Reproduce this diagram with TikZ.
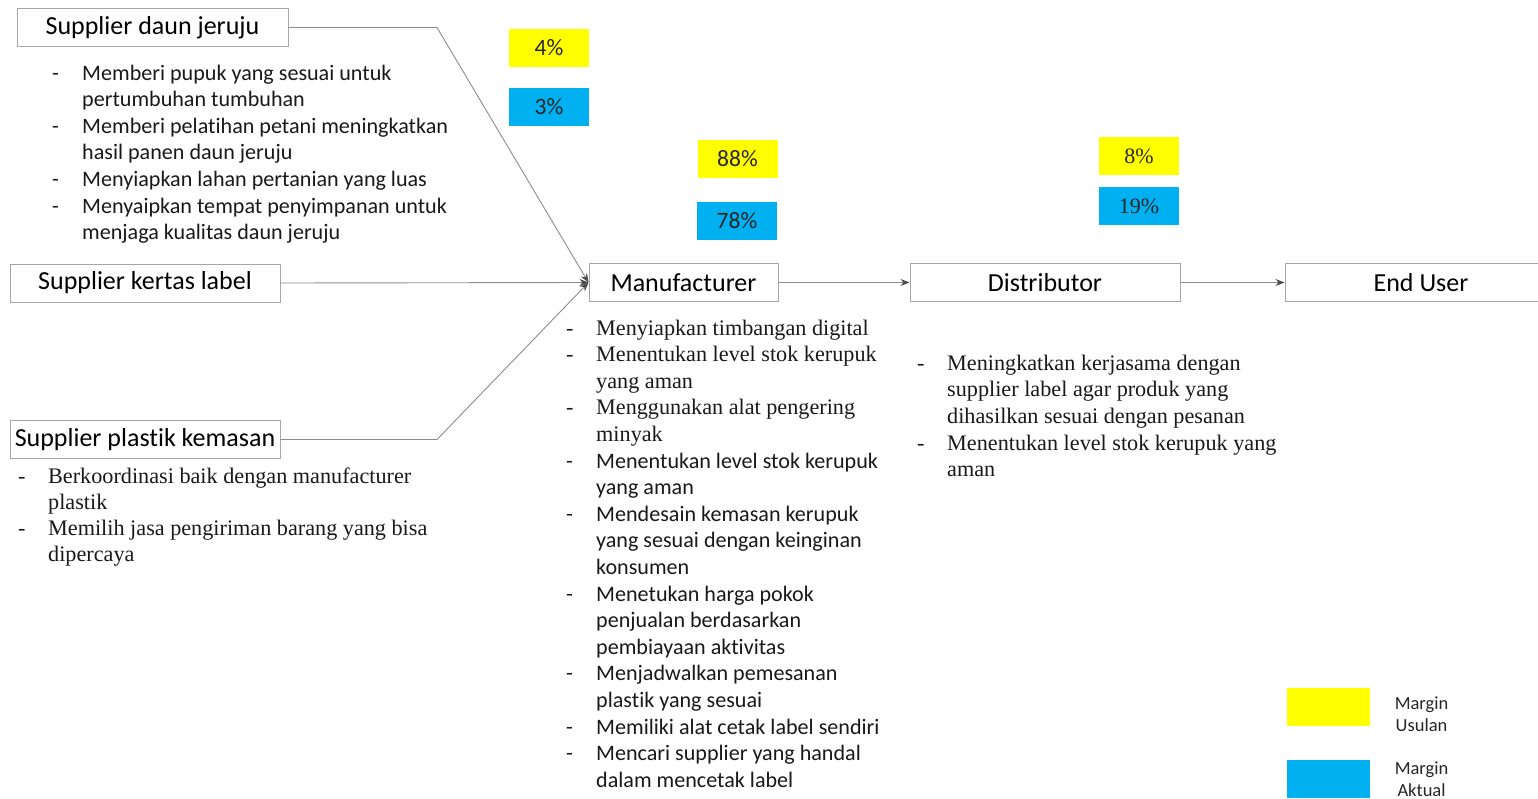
\documentclass[tikz,border=0pt]{standalone}
\usepackage{fontspec}
\setmainfont{Carlito}[Ligatures=CommonOff]
\newfontfamily\timesfont{Liberation Serif}
\usepackage{tikz}
\usetikzlibrary{positioning, arrows.meta, calc}

\definecolor{usulan}{HTML}{FFFF00}
\definecolor{aktual}{HTML}{00B0F0}
\definecolor{boxline}{HTML}{A6A6A6}
\definecolor{flowline}{HTML}{8C8C8C}

\tikzset{
    actor/.style={draw=boxline, line width=1pt, fill=white, inner sep=0pt,
        minimum height=38pt, font=\fontsize{26}{30}\selectfont},
    margin/.style={inner sep=0pt, minimum width=80pt, minimum height=38pt,
        text=black!85, font=\fontsize{23.5}{26}\selectfont},
    flow/.style={draw=flowline, line width=0.9pt,
        -{Stealth[length=9pt, width=7pt, color=black!70]}},
    notes/.style={inner sep=0pt, anchor=base west, align=left, text=black!90},
}

% list of notes: dash column and text column
\newcommand{\notelist}[1]{%
    \begin{tabular}[t]{@{}p{22pt}@{\hspace{8pt}}l@{}}#1\end{tabular}}

\begin{document}
\begin{tikzpicture}[x=1pt, y=-1pt]
    \useasboundingbox (0,0) rectangle (1538,798);

    % actors
    \node[actor, minimum width=271pt] (sdj) at (152.5,27.5) {Supplier daun jeruju};
    \node[actor, minimum width=270pt] (skl) at (145,283) {Supplier kertas label};
    \node[actor, minimum width=270pt] (spk) at (145,439.5) {Supplier plastik kemasan};
    \node[actor, minimum width=189pt] (mfr) at (683.5,282.5) {Manufacturer};
    \node[actor, minimum width=270pt] (dst) at (1045,282.5) {Distributor};
    \node[actor, minimum width=272pt] (eu) at (1421,282.5) {End User};

    % bends
    \coordinate (bsdj) at (437,27.5);
    \coordinate (bspk) at (437,439.5);

    % connectors
    \draw[flow] (sdj.east) -- (bsdj) -- (mfr.west);
    \draw[flow] (skl.east) -- (mfr.west);
    \draw[flow] (spk.east) -- (bspk) -- (mfr.west);
    \draw[flow] (mfr.east) -- (dst.west);
    \draw[flow] (dst.east) -- (eu.west);

    % margins
    \foreach \name/\x/\y/\co/\txt in {
        u4/549/47.5/usulan/4\%,
        a3/549/106.5/aktual/3\%,
        u88/737.5/159/usulan/88\%,
        a78/737/220.5/aktual/78\%}
    {
        \node[margin, fill=\co] (\name) at (\x,\y) {\txt};
    }
    \node[margin, fill=usulan, font=\timesfont\fontsize{22}{24}\selectfont] (u8) at (1139,156) {8\%};
    \node[margin, fill=aktual, font=\timesfont\fontsize{22}{24}\selectfont] (a19) at (1139,206) {19\%};

    % notes
    \node[notes, font=\fontsize{22.1}{26.6}\selectfont] (nsdj) at (52,80) {\notelist{
        - & Memberi pupuk yang sesuai untuk \\
          & pertumbuhan tumbuhan \\
        - & Memberi pelatihan petani meningkatkan \\
          & hasil panen daun jeruju \\
        - & Menyiapkan lahan pertanian yang luas \\
        - & Menyaipkan tempat penyimpanan untuk \\
          & menjaga kualitas daun jeruju}};

    \node[notes, font=\timesfont\fontsize{22.2}{26.3}\selectfont] (nspk) at (18,483) {\notelist{
        - & Berkoordinasi baik dengan manufacturer \\
          & plastik \\
        - & Memilih jasa pengiriman barang yang bisa \\
          & dipercaya}};

    \node[notes, font=\timesfont\fontsize{22.2}{26.6}\selectfont] (nmfr) at (566,335) {\notelist{
        - & Menyiapkan timbangan digital \\
        - & Menentukan level stok kerupuk \\
          & yang aman \\
        - & Menggunakan alat pengering \\
          & minyak}};
    \node[notes, font=\fontsize{22.1}{26.6}\selectfont] (nmfr2) at (566,468) {\notelist{
        - & Menentukan level stok kerupuk \\
          & yang aman \\
        - & Mendesain kemasan kerupuk \\
          & yang sesuai dengan keinginan \\
          & konsumen \\
        - & Menetukan harga pokok \\
          & penjualan berdasarkan \\
          & pembiayaan aktivitas \\
        - & Menjadwalkan pemesanan \\
          & plastik yang sesuai \\
        - & Memiliki alat cetak label sendiri \\
        - & Mencari supplier yang handal \\
          & dalam mencetak label}};

    \node[notes, font=\timesfont\fontsize{22.2}{26.7}\selectfont] (ndst) at (917,370) {\notelist{
        - & Meningkatkan kerjasama dengan \\
          & supplier label agar produk yang \\
          & dihasilkan sesuai dengan pesanan \\
        - & Menentukan level stok kerupuk yang \\
          & aman}};

    % legend
    \node[margin, fill=usulan, minimum width=83pt] (lu) at (1328.5,707) {};
    \node[margin, fill=aktual, minimum width=83pt] (la) at (1328.5,779) {};
    \node[align=center, font=\fontsize{18.5}{22}\selectfont, text=black!85, right=21pt of lu, yshift=-7pt] (tu) {Margin\\Usulan};
    \node[align=center, font=\fontsize{18.5}{22}\selectfont, text=black!85, right=21pt of la] (ta) {Margin\\Aktual};
\end{tikzpicture}
\end{document}
